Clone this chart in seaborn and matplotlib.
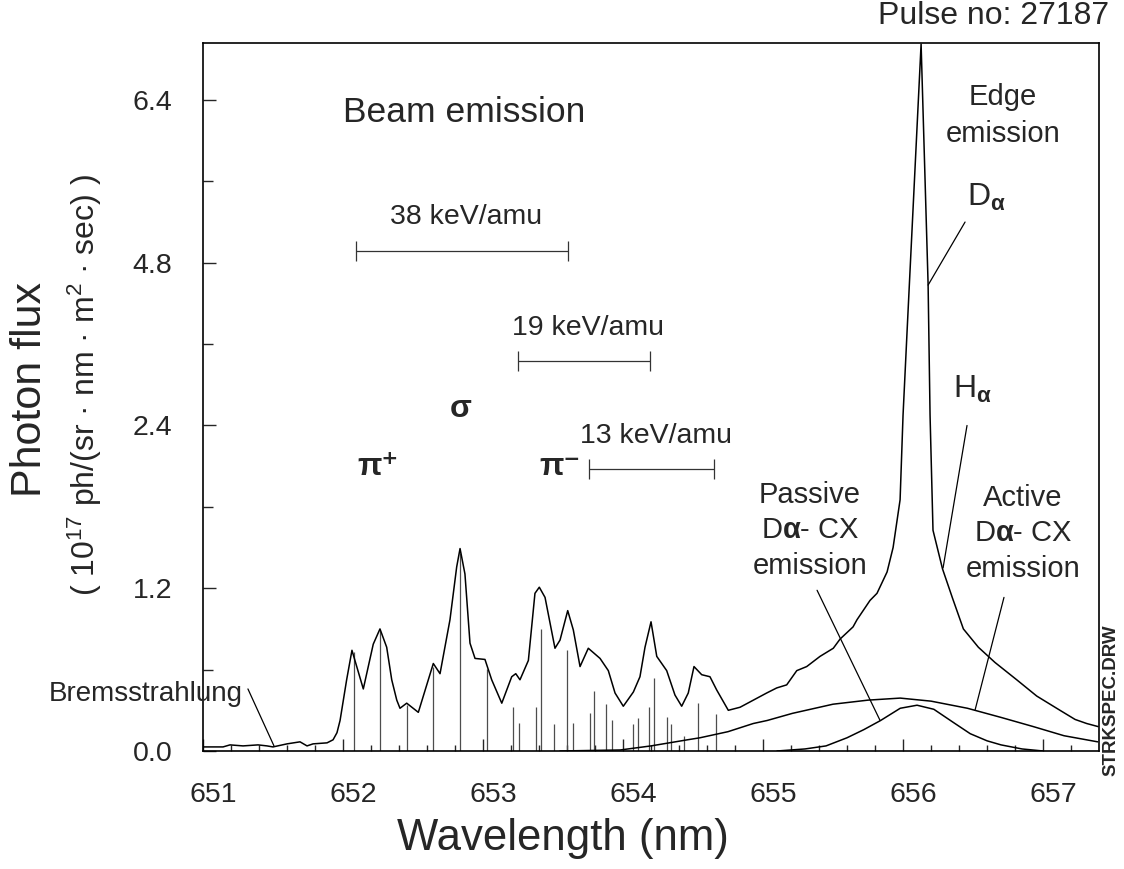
import numpy as np
import pandas as pd
import matplotlib
matplotlib.use("Agg")
import matplotlib.pyplot as plt
import matplotlib.transforms as mtransforms
import seaborn as sns

# measured spectrum (wavelength in nm, flux in 1e17 ph/(sr nm m2 s))
wl = [651.000, 651.143, 651.193, 651.286, 651.393, 651.457, 651.500, 651.600,
      651.693, 651.743, 651.786, 651.886, 651.929, 651.957, 651.979, 652.026,
      652.064, 652.145, 652.216, 652.264, 652.312, 652.348, 652.384, 652.407,
      652.455, 652.538, 652.645, 652.693, 652.764, 652.812, 652.836, 652.871,
      652.907, 652.943, 653.014, 653.062, 653.134, 653.205, 653.234, 653.264,
      653.324, 653.371, 653.402, 653.443, 653.514, 653.550, 653.605, 653.645,
      653.693, 653.752, 653.836, 653.895, 653.943, 654.002, 654.074, 654.121,
      654.157, 654.200, 654.241, 654.312, 654.371, 654.419, 654.466, 654.507,
      654.562, 654.621, 654.669, 654.752, 654.836, 654.931, 655.026, 655.098,
      655.169, 655.241, 655.312, 655.407, 655.502, 655.550, 655.643, 655.671,
      655.764, 655.814, 655.886, 655.929, 655.979, 656.000, 656.029, 656.129,
      656.179, 656.193, 656.214, 656.282, 656.354, 656.431, 656.538, 656.657,
      656.812, 656.955, 657.121, 657.229, 657.312, 657.393]
flux = [0.04, 0.04, 0.06, 0.05, 0.06, 0.05, 0.04, 0.07,
        0.09, 0.05, 0.07, 0.08, 0.11, 0.18, 0.30, 0.70,
        0.99, 0.61, 1.05, 1.20, 1.02, 0.70, 0.50, 0.42,
        0.47, 0.38, 0.86, 0.76, 1.29, 1.81, 1.99, 1.74,
        1.06, 0.91, 0.90, 0.70, 0.47, 0.73, 0.76, 0.70,
        0.89, 1.55, 1.61, 1.51, 1.01, 1.09, 1.38, 1.19,
        0.83, 1.01, 0.91, 0.79, 0.57, 0.44, 0.58, 0.73,
        1.02, 1.27, 0.93, 0.79, 0.55, 0.44, 0.57, 0.83,
        0.75, 0.73, 0.60, 0.40, 0.43, 0.50, 0.57, 0.62,
        0.65, 0.79, 0.83, 0.93, 1.01, 1.10, 1.22, 1.29,
        1.48, 1.55, 1.76, 2.00, 2.47, 3.30, 4.13, 6.95,
        4.59, 3.30, 2.17, 1.79, 1.50, 1.20, 1.02, 0.87,
        0.70, 0.54, 0.40, 0.31, 0.27, 0.24]

# Stark components (stick spectrum)
stick_wl = [652.079, 652.264, 652.457, 652.643, 652.836, 653.029, 653.214,
            653.257, 653.379, 653.414, 653.507, 653.600, 653.643, 653.764,
            653.793, 653.879, 653.921, 654.071, 654.107, 654.186, 654.221,
            654.314, 654.343, 654.436, 654.536, 654.664]
stick_h = [0.97, 1.18, 0.45, 0.83, 1.95, 0.81, 0.43,
           0.28, 0.43, 1.20, 0.27, 0.99, 0.28, 0.37,
           0.59, 0.46, 0.30, 0.27, 0.32, 0.43, 0.72,
           0.33, 0.27, 0.15, 0.47, 0.36]

# active D-alpha CX component (broad)
active_wl = [653.55, 653.98, 654.20, 654.46, 654.55, 654.75, 654.93, 655.03,
             655.21, 655.50, 655.75, 655.98, 656.20, 656.46, 656.70, 656.93,
             657.15, 657.39]
active_flux = [0.00, 0.01, 0.05, 0.11, 0.13, 0.19, 0.27, 0.30,
               0.37, 0.46, 0.50, 0.52, 0.49, 0.42, 0.33, 0.24,
               0.15, 0.09]

# passive D-alpha CX component (narrow)
passive_wl = [655.10, 655.30, 655.45, 655.60, 655.72, 655.84, 655.98, 656.10,
              656.22, 656.36, 656.48, 656.60, 656.70, 656.85, 657.00]
passive_flux = [0.00, 0.02, 0.05, 0.13, 0.21, 0.30, 0.42, 0.45,
                0.41, 0.28, 0.17, 0.10, 0.06, 0.02, 0.00]

# Doppler shift scale bars
bar_labels = ["38 keV/amu", "19 keV/amu", "13 keV/amu"]
bar_start = [652.09, 653.25, 653.76]
bar_end = [653.61, 654.19, 654.65]
bar_y = [4.92, 3.83, 2.77]

xtick_pos = [651, 652, 653, 654, 655, 656, 657]
xtick_lab = ["651", "652", "653", "654", "655", "656", "657"]
ytick_pos = [0.0, 1.6, 3.2, 4.8, 6.4]
ytick_lab = ["0.0", "1.2", "2.4", "4.8", "6.4"]

sns.set_style("ticks")
plt.rcParams["font.family"] = ["Liberation Sans", "DejaVu Sans"]
plt.rcParams["mathtext.fontset"] = "custom"
plt.rcParams["mathtext.rm"] = "Liberation Sans"
plt.rcParams["mathtext.it"] = "Liberation Sans:italic"
plt.rcParams["mathtext.bf"] = "Liberation Sans:bold"
plt.rcParams["mathtext.default"] = "regular"

fig = plt.figure(figsize=(11.24, 8.69), dpi=100)
ax = fig.add_axes([0.1806, 0.1358, 0.7972, 0.8147])

# stick spectrum
ax.vlines(stick_wl, 0, stick_h, color="0.3", lw=0.9)

spec = pd.DataFrame({"wl": wl, "flux": flux})
sns.lineplot(data=spec, x="wl", y="flux", ax=ax, color="black", lw=1.1)
sns.lineplot(x=active_wl, y=active_flux, ax=ax, color="black", lw=1.1)
sns.lineplot(x=passive_wl, y=passive_flux, ax=ax, color="black", lw=1.1)

# scale bars for beam energies
for lab, x0, x1, y in zip(bar_labels, bar_start, bar_end, bar_y):
    ax.errorbar((x0 + x1) / 2, y, xerr=(x1 - x0) / 2, fmt="none",
                ecolor="0.2", elinewidth=0.9, capsize=7, capthick=0.9)
    ax.text((x0 + x1) / 2 + 0.03, y + 0.33, lab, ha="center", va="center",
            fontsize=20.5)

ax.set_xlim(651.0, 657.4)
ax.set_ylim(0, 6.96)
ax.set_xticks(xtick_pos)
ax.set_xticklabels(xtick_lab)
ax.set_yticks(ytick_pos)
ax.set_yticklabels(ytick_lab)
ax.set_xticks(np.arange(651.2, 657.4, 0.2), minor=True)
ax.set_yticks([0.8, 2.4, 4.0, 5.6], minor=True)
ax.tick_params(axis="both", which="both", direction="in", width=1.0,
               labelsize=20.5, top=False, right=False)
ax.tick_params(axis="x", which="major", length=9, pad=22)
ax.tick_params(axis="x", which="minor", length=4)
ax.tick_params(axis="y", which="major", length=9, pad=22)
ax.tick_params(axis="y", which="minor", length=7)
for side in ["left", "right", "top", "bottom"]:
    ax.spines[side].set_linewidth(1.2)
    ax.spines[side].set_color("black")
ax.set_xlabel("")
ax.set_ylabel("")

# tick labels sit a little to the right of the ticks in the original
shift = mtransforms.ScaledTranslation(10 / 100, 0, fig.dpi_scale_trans)
for lab in ax.get_xticklabels():
    lab.set_transform(lab.get_transform() + shift)

ax.text(0.402, -0.123, "Wavelength (nm)", transform=ax.transAxes,
        ha="center", va="center", fontsize=31.5)
ax.text(-0.193, 0.51, "Photon flux", transform=ax.transAxes, rotation=90,
        ha="center", va="center", fontsize=31)
ax.text(-0.132, 0.517, r"( 10$^{17}$ ph/(sr · nm · m$^{2}$ · sec) )",
        transform=ax.transAxes, rotation=90, ha="center", va="center",
        fontsize=23)

# annotations
ax.text(656.65, 7.23, "Pulse no: 27187", ha="center", va="center",
        fontsize=23, clip_on=False)
ax.text(652.864, 6.28, "Beam emission", ha="center", va="center", fontsize=25.5)
ax.text(652.25, 2.79, "π⁺", ha="center", va="center", fontsize=23,
        fontweight="bold")
ax.text(652.843, 3.36, "σ", ha="center", va="center", fontsize=23,
        fontweight="bold")
ax.text(653.55, 2.79, "π⁻", ha="center", va="center", fontsize=23,
        fontweight="bold")
ax.text(650.593, 0.56, "Bremsstrahlung", ha="center", va="center",
        fontsize=20, clip_on=False)
ax.plot([651.321, 651.507], [0.61, 0.05], color="black", lw=0.9)

ax.text(656.714, 6.25, "Edge\nemission", ha="center", va="center",
        fontsize=21, linespacing=1.4)
ax.text(656.457, 5.44, r"D$_{\mathbf{\alpha}}$", ha="left", va="center",
        fontsize=23)
ax.plot([656.443, 656.179], [5.20, 4.58], color="black", lw=0.9)
ax.text(656.357, 3.55, r"H$_{\mathbf{\alpha}}$", ha="left", va="center",
        fontsize=23)
ax.plot([656.457, 656.286], [3.20, 1.80], color="black", lw=0.9)

ax.text(655.336, 2.17, "Passive\n" + r"D$\mathbf{\alpha}$- CX" + "\nemission",
        ha="center", va="center", fontsize=21, linespacing=1.35)
ax.plot([655.386, 655.836], [1.58, 0.30], color="black", lw=0.9)
ax.text(656.857, 2.14, "Active\n" + r"D$\mathbf{\alpha}$- CX" + "\nemission",
        ha="center", va="center", fontsize=21, linespacing=1.35)
ax.plot([656.721, 656.514], [1.51, 0.40], color="black", lw=0.9)

ax.text(657.486, 0.50, "STRKSPEC.DRW", rotation=90, ha="center", va="center",
        fontsize=13.5, fontweight="bold", clip_on=False)

fig.savefig("out.png", dpi=100)
